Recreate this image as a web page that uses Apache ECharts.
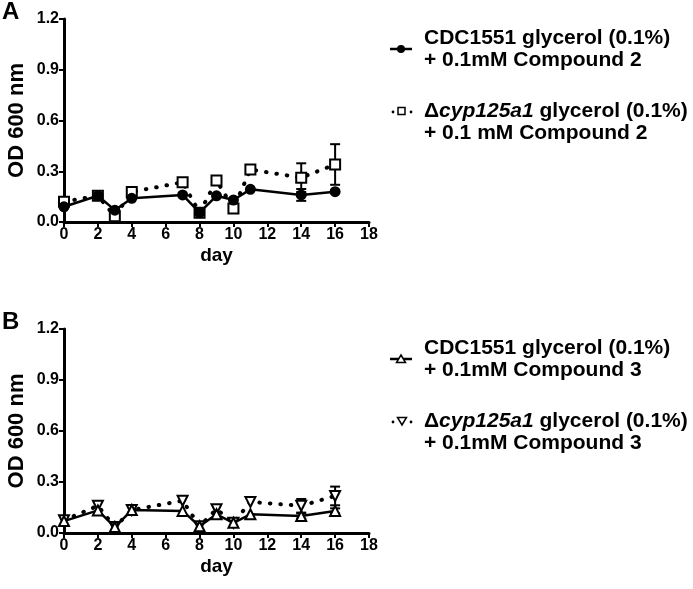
<!DOCTYPE html>
<html>
<head>
<meta charset="utf-8">
<script src="https://cdn.jsdelivr.net/npm/echarts@6/dist/echarts.min.js"></script>
<style>html,body{margin:0;padding:0;background:#fff}#c{width:693px;height:589px}</style>
</head>
<body>
<div id="c"></div>
<script>
// ---- data ----
const days = [0, 2, 3, 4, 7, 8, 9, 10, 11, 14, 16];
const cdcCmp2 = [0.09, 0.155, 0.07, 0.14, 0.16, 0.055, 0.155, 0.13, 0.193, 0.16, 0.179];
const cdcCmp2Err = [0, 0, 0, 0, 0, 0, 0, 0, 0, 0.035, 0];
const cypCmp2 = [0.12, 0.155, 0.034, 0.178, 0.235, 0.055, 0.245, 0.08, 0.31, 0.262, 0.34];
const cypCmp2Err = [0, 0, 0, 0, 0, 0, 0, 0, 0, 0.085, 0.12];
const cdcCmp3 = [0.07, 0.133, 0.035, 0.135, 0.13, 0.04, 0.11, 0.06, 0.11, 0.1, 0.13];
const cdcCmp3Err = [0, 0, 0, 0, 0, 0, 0, 0, 0, 0.015, 0.015];
const cypCmp3 = [0.075, 0.16, 0.035, 0.135, 0.19, 0.04, 0.14, 0.06, 0.183, 0.16, 0.218];
const cypCmp3Err = [0, 0, 0, 0, 0, 0, 0, 0, 0, 0.04, 0.055];
const yTicks = ['0.0', '0.3', '0.6', '0.9', '1.2'];
const panelLabels = ['A', 'B'];
const legendA = [
  ['CDC1551 glycerol (0.1%)', '+ 0.1mM Compound 2'],
  ['cyp125a1', ' glycerol (0.1%)', '+ 0.1 mM Compound 2']
];
const legendB = [
  ['CDC1551 glycerol (0.1%)', '+ 0.1mM Compound 3'],
  ['cyp125a1', ' glycerol (0.1%)', '+ 0.1mM Compound 3']
];

const FONT = '"Liberation Sans", Arial, Helvetica, sans-serif';
const chart = echarts.init(document.getElementById('c'), null, {renderer: 'canvas'});

function pts(xs, ys) { return xs.map((x, i) => [x, ys[i]]); }
function errPts(xs, ys, es) { return xs.map((x, i) => [x, ys[i], es[i]]); }

function renderErr(params, api) {
  const x = api.value(0), y = api.value(1), e = api.value(2);
  if (!e) return null;
  const t = api.coord([x, y + e]), b = api.coord([x, y - e]);
  const w = 5;
  const st = {stroke: '#000', lineWidth: 2};
  return {type: 'group', children: [
    {type: 'line', shape: {x1: t[0], y1: t[1], x2: b[0], y2: b[1]}, style: st},
    {type: 'line', shape: {x1: t[0] - w, y1: t[1], x2: t[0] + w, y2: t[1]}, style: st},
    {type: 'line', shape: {x1: b[0] - w, y1: b[1], x2: b[0] + w, y2: b[1]}, style: st}
  ]};
}

const grids = [
  {left: 64, top: 19, width: 305, height: 203},
  {left: 64, top: 329, width: 305, height: 204}
];

function xAxis(gi) {
  return {
    gridIndex: gi, type: 'value', min: 0, max: 18, interval: 2,
    name: 'day', nameLocation: 'middle', nameGap: 24,
    nameTextStyle: {fontFamily: FONT, fontWeight: 'bold', fontSize: 19, color: '#000'},
    axisLine: {onZero: false, lineStyle: {color: '#000', width: 3}},
    axisTick: {length: 5, lineStyle: {color: '#000', width: 2}},
    axisLabel: {margin: 5, fontFamily: FONT, fontWeight: 'bold', fontSize: 16, color: '#000'},
    splitLine: {show: false}
  };
}
function yAxis(gi) {
  return {
    gridIndex: gi, type: 'value', min: 0, max: 1.2, interval: 0.3,
    name: 'OD 600 nm', nameLocation: 'middle', nameGap: 36, nameRotate: 90,
    nameTextStyle: {fontFamily: FONT, fontWeight: 'bold', fontSize: 22, color: '#000'},
    axisLine: {show: true, lineStyle: {color: '#000', width: 3}},
    axisTick: {show: true, length: 5, lineStyle: {color: '#000', width: 2}},
    axisLabel: {margin: 5, fontFamily: FONT, fontWeight: 'bold', fontSize: 16, color: '#000',
      formatter: v => yTicks[Math.round(v / 0.3)]},
    splitLine: {show: false}
  };
}

function solidSeries(gi, data, symbol, size, fill) {
  return {
    type: 'line', xAxisIndex: gi, yAxisIndex: gi, data: data, z: 4,
    symbol: symbol, symbolSize: size,
    itemStyle: {color: fill, borderColor: '#000', borderWidth: 2},
    lineStyle: {color: '#000', width: 2.5}, animation: false
  };
}
function dottedSeries(gi, data, symbol, size, rotate) {
  return {
    type: 'line', xAxisIndex: gi, yAxisIndex: gi, data: data, z: 3,
    symbol: symbol, symbolSize: size, symbolRotate: rotate || 0,
    itemStyle: {color: '#fff', borderColor: '#000', borderWidth: 2},
    lineStyle: {color: '#000', width: 4, type: [0.5, 10], cap: 'round'}, animation: false
  };
}
function errSeries(gi, data) {
  return {type: 'custom', xAxisIndex: gi, yAxisIndex: gi, data: data, renderItem: renderErr, z: 2, animation: false};
}

// legend graphics
function legendGroup(top, items, kinds) {
  const ch = [];
  const textX = 424;
  const lh = 22;
  const y1 = top;
  const sym1Y = y1 + lh / 2;
  ch.push({type: 'line', shape: {x1: 390, y1: sym1Y, x2: 412, y2: sym1Y}, style: {stroke: '#000', lineWidth: 2.5}});
  if (kinds[0] === 'circle') {
    ch.push({type: 'circle', shape: {cx: 401, cy: sym1Y, r: 4}, style: {fill: '#000'}});
  } else {
    ch.push({type: 'polygon', shape: {points: [[401, sym1Y - 4], [405.5, sym1Y + 3.5], [396.5, sym1Y + 3.5]]}, style: {fill: '#fff', stroke: '#000', lineWidth: 1.5}});
  }
  ch.push({type: 'text', x: textX, y: y1, style: {text: items[0][0], font: 'bold 21px ' + FONT, fill: '#000', verticalAlign: 'middle'}});
  ch.push({type: 'text', x: textX, y: y1 + lh, style: {text: items[0][1], font: 'bold 21px ' + FONT, fill: '#000', verticalAlign: 'middle'}});
  const y2 = top + 73;
  ch.push({type: 'circle', shape: {cx: 393, cy: y2 + 1, r: 1.4}, style: {fill: '#000'}});
  ch.push({type: 'circle', shape: {cx: 411, cy: y2 + 1, r: 1.4}, style: {fill: '#000'}});
  if (kinds[1] === 'square') {
    ch.push({type: 'rect', shape: {x: 398, y: y2 - 3.5, width: 7, height: 7}, style: {fill: '#fff', stroke: '#000', lineWidth: 1.5}});
  } else {
    ch.push({type: 'polygon', shape: {points: [[397.5, y2 - 3.5], [406.5, y2 - 3.5], [402, y2 + 4]]}, style: {fill: '#fff', stroke: '#000', lineWidth: 1.5}});
  }
  ch.push({type: 'text', x: textX, y: y2, style: {
    text: '{n|\u0394}{i|' + items[1][0] + '}{n|' + items[1][1] + '}',
    verticalAlign: 'middle',
    rich: {
      n: {fontFamily: FONT, fontWeight: 'bold', fontSize: 21, fill: '#000'},
      i: {fontFamily: FONT, fontWeight: 'bold', fontStyle: 'italic', fontSize: 21, fill: '#000'}
    }
  }});
  ch.push({type: 'text', x: textX, y: y2 + lh, style: {text: items[1][2], font: 'bold 21px ' + FONT, fill: '#000', verticalAlign: 'middle'}});
  return {type: 'group', children: ch};
}

const option = {
  backgroundColor: '#fff',
  animation: false,
  grid: grids,
  xAxis: [xAxis(0), xAxis(1)],
  yAxis: [yAxis(0), yAxis(1)],
  series: [
    errSeries(0, errPts(days, cypCmp2, cypCmp2Err)),
    errSeries(0, errPts(days, cdcCmp2, cdcCmp2Err)),
    dottedSeries(0, pts(days, cypCmp2), 'rect', 10),
    solidSeries(0, pts(days, cdcCmp2), 'circle', 9, '#000'),
    errSeries(1, errPts(days, cypCmp3, cypCmp3Err)),
    errSeries(1, errPts(days, cdcCmp3, cdcCmp3Err)),
    dottedSeries(1, pts(days, cypCmp3), 'triangle', 10, 180),
    solidSeries(1, pts(days, cdcCmp3), 'triangle', 10, '#fff')
  ],
  graphic: [
    {type: 'text', left: 2, top: 0, style: {text: panelLabels[0], font: 'bold 24px ' + FONT, fill: '#000'}},
    {type: 'text', left: 2, top: 310, style: {text: panelLabels[1], font: 'bold 24px ' + FONT, fill: '#000'}},
    legendGroup(38, legendA, ['circle', 'square']),
    legendGroup(348, legendB, ['triangle', 'down'])
  ]
};
chart.setOption(option);
</script>
</body>
</html>
